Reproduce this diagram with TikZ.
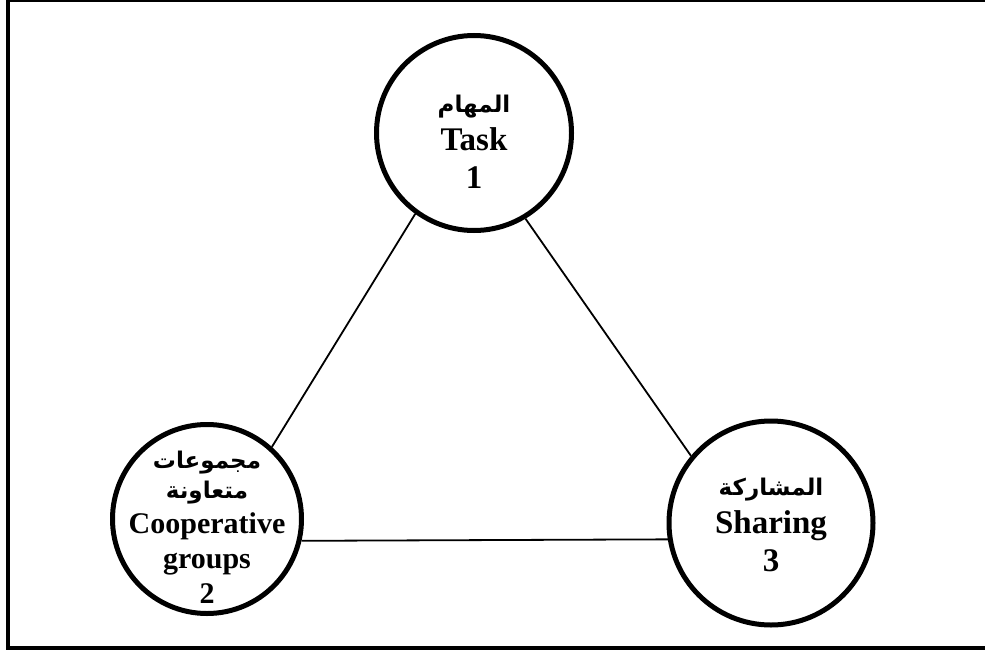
\documentclass[tikz,border=0pt]{standalone}
\usepackage{fontspec}
\setmainfont{Liberation Serif}
\newfontfamily\arabicfont[Script=Arabic]{DejaVu Sans}
\TeXXeTstate=1
\newcommand{\arline}[1]{{\arabicfont\bfseries\fontsize{23}{34}\selectfont\beginR #1\endR}}
\begin{document}
\begin{tikzpicture}[x=1pt,y=-1pt,
  ring/.style={circle,draw,line width=5pt,minimum size=#1,inner sep=0pt},
  link/.style={line width=1.8pt},
  frame/.style={line width=4pt},
  lbl/.style={align=center,inner sep=0pt,font=\bfseries\fontsize{33}{38}\selectfont},
  lblsmall/.style={align=center,inner sep=0pt,font=\bfseries\fontsize{30}{35}\selectfont}]
\useasboundingbox (0,0) rectangle (985,653);

% outer frame (open on the right)
\draw[frame] (8,0) -- (985,0);
\draw[frame] (8,-2) -- (8,648) -- (990,648);

% the three circles
\node[ring=195pt] (c1) at (474,133) {};
\node[ring=189pt] (c2) at (207,519) {};
\node[ring=204pt] (c3) at (771,523) {};

% labels
\node[lbl] (t1) at (474,142) {\arline{المهام}\\Task\\1};
\node[lblsmall] (t2) at (207,527) {\arline{مجموعات}\\[-5pt]\arline{متعاونة}\\Cooperative\\groups\\2};
\node[lbl] (t3) at (771,525) {\arline{المشاركة}\\Sharing\\3};

% connectors
\draw[link] (c1.234) -- (c2.48);
\draw[link] (c1.301) -- (c3.140);
\draw[link] (c2.-13) -- (c3.189.6);
\end{tikzpicture}
\end{document}
